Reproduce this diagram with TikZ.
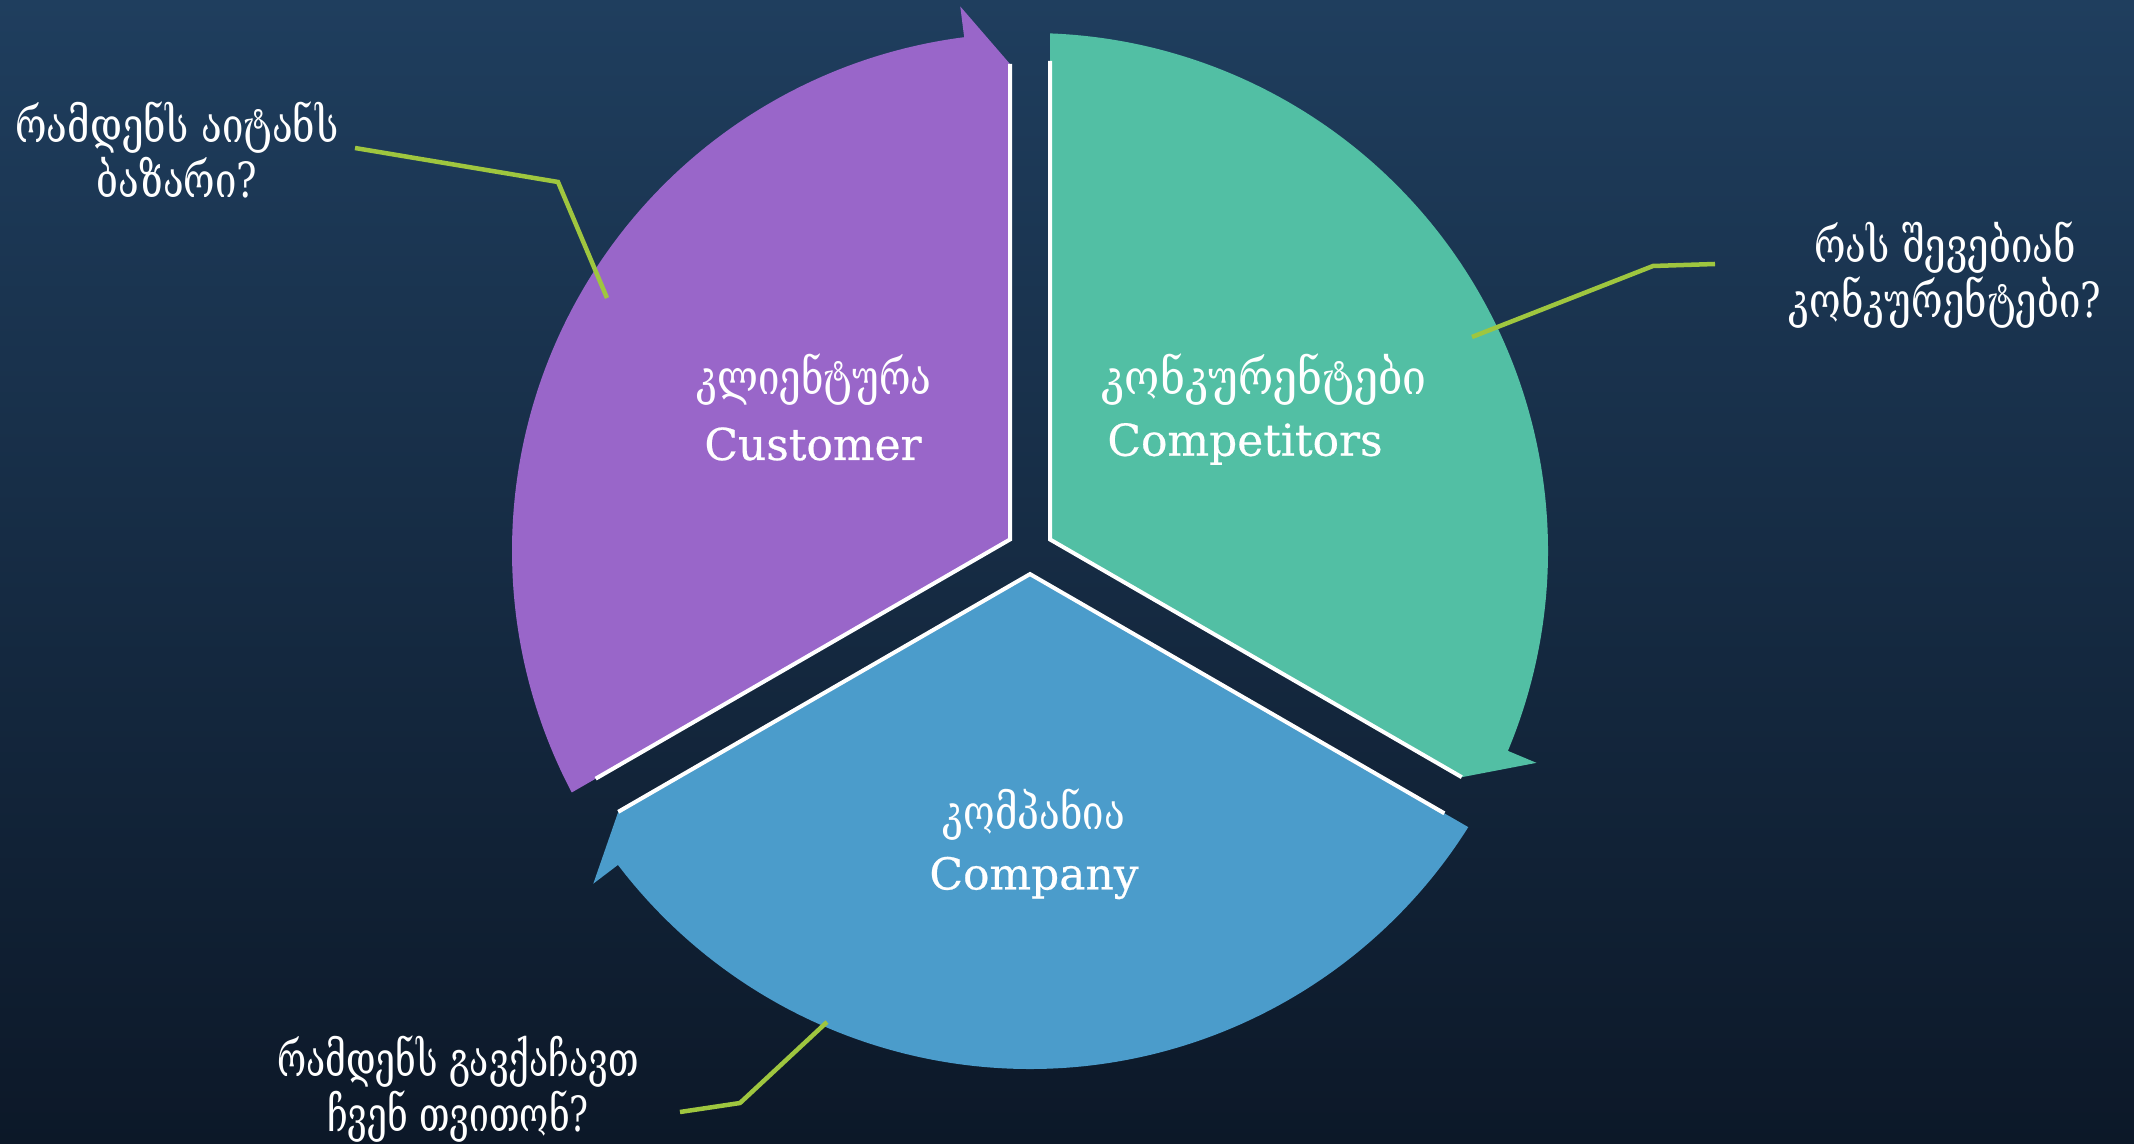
\documentclass[tikz,border=0pt]{standalone}
\usepackage{fontspec}
\setmainfont{DejaVu Serif}[FakeBold=0.5]
\newfontfamily\geofont{DejaVu Serif}[FakeStretch=0.79]
\newfontfamily\geowide{DejaVu Serif}[FakeStretch=0.88]
\newfontfamily\geonarrow{DejaVu Serif}[FakeStretch=0.73]
\usetikzlibrary{calc}

\definecolor{bgtop}{HTML}{1F3E5E}
\definecolor{bgbot}{HTML}{0C1828}
\definecolor{segpurple}{HTML}{9966C9}
\definecolor{seggreen}{HTML}{52BFA4}
\definecolor{segblue}{HTML}{4B9CCB}
\definecolor{leadercol}{HTML}{9FC63F}

\tikzset{
  white edge/.style={draw=white, line width=0.04cm, line join=miter},
  leader/.style={draw=leadercol, line width=0.045cm, line join=miter},
  note/.style={text=white, align=center, font=\geofont\fontsize{13.8pt}{15.6pt}\selectfont, inner sep=0pt},
  geolabel/.style={text=white, font=\geofont\fontsize{13.8pt}{15pt}\selectfont, inner sep=0pt},
  englabel/.style={text=white, font=\fontsize{12.5pt}{15pt}\selectfont, inner sep=0pt},
}

% one segment of the cycle: #1 = start angle of the segment (it runs 120 degrees clockwise), #2 = colour
\newcommand{\cycseg}[2]{%
  \pgfmathsetmacro\sa{#1}%
  \pgfmathsetmacro\ea{#1-120}%
  \pgfmathsetmacro\arcA{#1-2.21}%
  \pgfmathsetmacro\arcB{#1-120+7.3}%
  \pgfmathsetmacro\sn{#1-90}%
  \pgfmathsetmacro\en{#1-120+90}%
  \pgfmathsetmacro\jn{#1-60}%
  \fill[#2] ($(C)+(\jn:0.2309)$) -- ($(C)+(\sa:5.176)+(\sn:0.2)$)
     arc[start angle=\arcA, end angle=\arcB, radius=5.18]
     -- ($(C)+(\arcB:5.49)$) -- ($(C)+(\ea:4.87)+(\en:0.2)$) -- cycle;
  \draw[white edge] ($(C)+(\sa:4.9)+(\sn:0.2)$) -- ($(C)+(\jn:0.2309)$)
     -- ($(C)+(\ea:4.87)+(\en:0.2)$);
}

\begin{document}
\begin{tikzpicture}
  % background
  \shade[top color=bgtop, bottom color=bgbot] (0,0) rectangle (21.34,11.43);
  \useasboundingbox (0,0) rectangle (21.34,11.43);

  \coordinate (C) at (10.30,5.92);

  % the three segments of the cycle
  \cycseg{210}{segpurple}
  \cycseg{90}{seggreen}
  \cycseg{330}{segblue}

  % labels inside the segments
  \node[geolabel] (custgeo) at (8.14,7.63) {კლიენტურა};
  \node[englabel] (custeng) at (8.13,6.99) {Customer};
  \node[geolabel, font=\geowide\fontsize{13.8pt}{15pt}\selectfont] (compgeo) at (12.64,7.63) {კონკურენტები};
  \node[englabel] (compeng) at (12.45,6.99) {Competitors};
  \node[geolabel] (firmgeo) at (10.34,3.28) {კომპანია};
  \node[englabel] (firmeng) at (10.34,2.65) {Company};

  % questions around the cycle
  \node[note] (q1) at (1.77,9.93) {რამდენს აიტანს\\ბაზარი?};
  \node[note] (q2) at (19.45,8.68) {რას შევებიან\\კონკურენტები?};
  \node[note, font=\geonarrow\fontsize{13.8pt}{15.6pt}\selectfont] (q3) at (4.58,0.54) {რამდენს გავქაჩავთ\\ჩვენ თვითონ?};

  % leader lines
  \coordinate (l1a) at (3.55,9.95);
  \coordinate (l1b) at (5.58,9.61);
  \coordinate (l1c) at (6.07,8.45);
  \coordinate (l2a) at (17.15,8.79);
  \coordinate (l2b) at (16.53,8.77);
  \coordinate (l2c) at (14.72,8.06);
  \coordinate (l3a) at (6.80,0.31);
  \coordinate (l3b) at (7.40,0.40);
  \coordinate (l3c) at (8.27,1.21);
  \draw[leader] (l1a) -- (l1b) -- (l1c);
  \draw[leader] (l2a) -- (l2b) -- (l2c);
  \draw[leader] (l3a) -- (l3b) -- (l3c);
\end{tikzpicture}
\end{document}
